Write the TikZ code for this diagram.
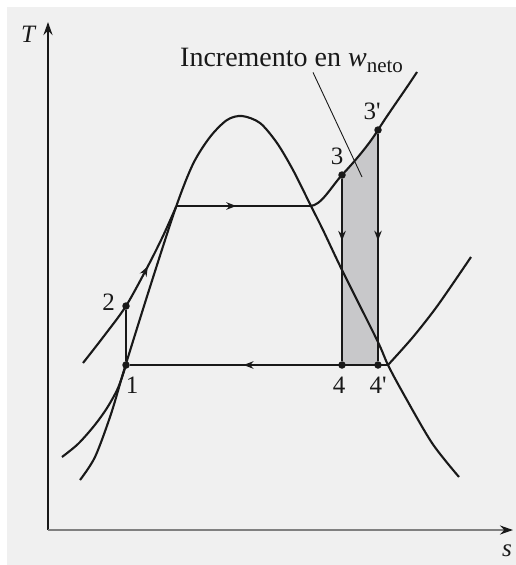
\documentclass[tikz,border=0pt]{standalone}
\usepackage{fontspec}
\setmainfont{Liberation Serif}
\usetikzlibrary{arrows.meta,positioning,decorations.markings}
\definecolor{bggray}{RGB}{240,240,240}
\definecolor{wgray}{RGB}{200,200,202}
\definecolor{ink}{RGB}{25,25,25}

\begin{document}
\begin{tikzpicture}[x=1pt,y=-1pt,>=Stealth,
  curve/.style={draw=ink,line width=2.1pt},
  cyc/.style={draw=ink,line width=2.7pt},
  axis/.style={draw=ink,line width=2.4pt,-{Stealth[length=13pt,width=9pt]}},
  dot/.style={circle,fill=ink,inner sep=0pt,minimum size=7.5pt},
  lbl/.style={inner sep=1pt,text=ink,font=\fontsize{25}{28}\selectfont},
  leader/.style={draw=ink,line width=0.9pt},
  midarrow/.style={postaction={decorate},decoration={markings,
      mark=at position #1 with {\arrow{Stealth[length=10pt,width=7.5pt]}}}}]
  \useasboundingbox (0,0) rectangle (516,565);
  \fill[bggray] (7,7) rectangle (516,565);

  % shaded extra work
  \begin{scope}
    \clip (310,206) .. controls (321,206) and (331,187) .. (342,175)
          .. controls (354,162) and (368,146) .. (378,130)
          .. controls (390,111) and (404,92) .. (417,72)
          -- (417,365) -- (310,365) -- cycle;
    \fill[wgray] (342,365) rectangle (378,100);
  \end{scope}

  % axes
  \draw[axis] (48,530) -- (48,22);
  \draw[axis,draw=ink!55,line width=2pt,-{Stealth[length=13pt,width=9pt,color=ink]}]
    (48,530) -- (513,530);
  \node[lbl,font=\fontsize{25}{28}\selectfont\itshape] (tlab) at (28,34) {T};
  \node[lbl,font=\fontsize{25}{28}\selectfont\itshape] (slab) at (507,551) {s};

  % saturation dome
  \draw[curve] plot[smooth] coordinates {(80,480) (95,457) (111,414) (125,367)
    (150,287) (176,207) (193,164) (210,137) (227,120) (242,116) (260,123)
    (277,143) (293,170) (310,204) (323,230) (342,270) (377,340) (388,365)
    (403,393) (432,443) (459,477)};

  % high pressure line
  \draw[curve,midarrow=0.64] plot[smooth] coordinates {(83,363) (104,336)
    (126,306) (148,266) (163,236) (176,207)};
  \draw[curve] (310,206) .. controls (321,206) and (331,187) .. (342,175)
          .. controls (354,162) and (368,146) .. (378,130)
          .. controls (390,111) and (404,92) .. (417,72);

  % low pressure line
  \draw[curve] plot[smooth] coordinates {(62,457) (78,444) (94,426) (107,408)
    (118,388) (126,365)};
  \draw[curve] plot[smooth] coordinates {(388,365) (413,337) (438,305) (471,257)};

  % states
  \node[dot] (p1) at (126,365) {};
  \node[dot] (p2) at (126,306) {};
  \node[dot] (p3) at (342,175) {};
  \node[dot] (p3b) at (378,130) {};
  \node[dot] (p4) at (342,365) {};
  \node[dot] (p4b) at (378,365) {};
  \coordinate (sf) at (176,206);
  \coordinate (sg) at (310,206);
  \coordinate (lg) at (388,365);

  % cycle
  \draw[cyc] (p1) -- (p2);
  \draw[cyc,midarrow=0.45] (sf) -- (sg);
  \draw[cyc,midarrow=0.34] (p3) -- (p4);
  \draw[cyc,midarrow=0.47] (p3b) -- (p4b);
  \draw[cyc,midarrow=0.56] (lg) -- (p1);

  \node[lbl,below=7pt of p1,xshift=6pt] (n1) {1};
  \node[lbl,left=6pt of p2,yshift=4pt] (n2) {2};
  \node[lbl,above=5pt of p3,xshift=-5pt] (n3) {3};
  \node[lbl,above=5pt of p3b,xshift=-6pt] (n3b) {3\textquotesingle};
  \node[lbl,below=7pt of p4,xshift=-3pt] (n4) {4};
  \node[lbl,below=7pt of p4b] (n4b) {4\textquotesingle};

  % label for the added work
  \node[inner sep=0pt,anchor=base west,text=ink,font=\fontsize{28}{31}\selectfont]
    (inc) at (180,66) {Incremento en \textit{w}\raisebox{-6pt}{\fontsize{21}{23}\selectfont neto}};
  \coordinate (wtip) at (362,177);
  \draw[leader] ([xshift=133pt]inc.south west) -- (wtip);
\end{tikzpicture}
\end{document}
